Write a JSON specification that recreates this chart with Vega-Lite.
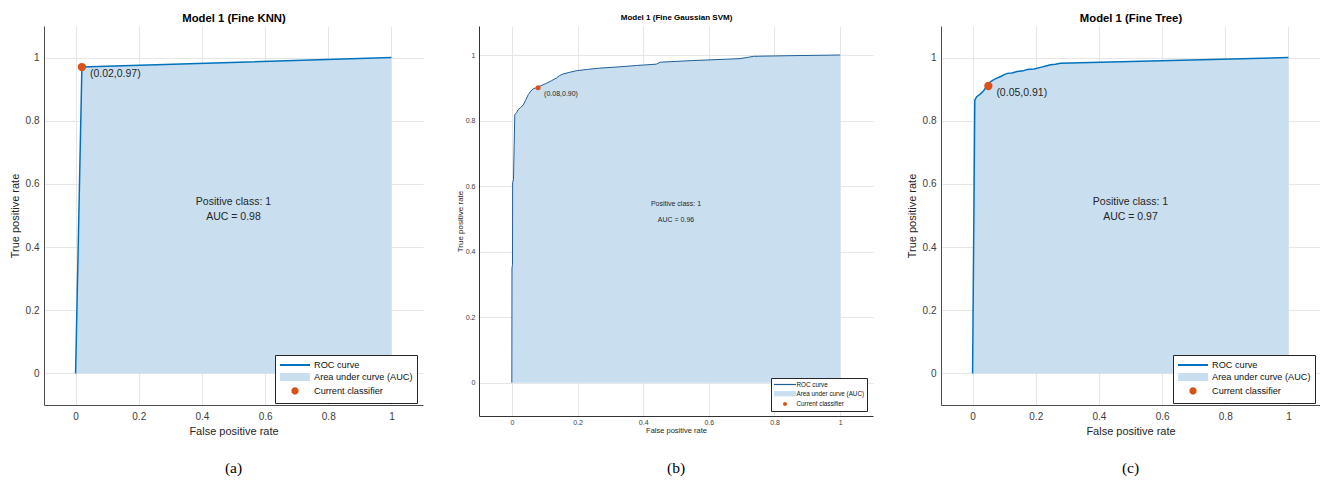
{
  "$schema": "https://vega.github.io/schema/vega-lite/v6.json",
  "background": "white",
  "padding": {"left": 9, "top": 12, "right": 0, "bottom": 0},
  "autosize": {"type": "pad"},
  "config": {"font": "Liberation Sans", "view": {"stroke": null}},
  "datasets": {
    "curveA": [{"fpr": 0, "tpr": 0}, {"fpr": 0.02, "tpr": 0.97}, {"fpr": 1, "tpr": 1}],
    "pointA": [{"fpr": 0.02, "tpr": 0.97, "label": "(0.02,0.97)"}],
    "textA": [{"fpr": 0.5, "tpr": 0.544, "text": "Positive class: 1"}, {"fpr": 0.5, "tpr": 0.496, "text": "AUC = 0.98"}],
    "curveB": [
      {"fpr": 0, "tpr": 0}, {"fpr": 0.0005, "tpr": 0.35}, {"fpr": 0.002, "tpr": 0.36}, {"fpr": 0.0025, "tpr": 0.61},
      {"fpr": 0.005, "tpr": 0.62}, {"fpr": 0.007, "tpr": 0.72}, {"fpr": 0.009, "tpr": 0.818}, {"fpr": 0.015, "tpr": 0.825},
      {"fpr": 0.019, "tpr": 0.833}, {"fpr": 0.027, "tpr": 0.84}, {"fpr": 0.035, "tpr": 0.848}, {"fpr": 0.042, "tpr": 0.862},
      {"fpr": 0.05, "tpr": 0.879}, {"fpr": 0.058, "tpr": 0.89}, {"fpr": 0.065, "tpr": 0.897}, {"fpr": 0.075, "tpr": 0.9},
      {"fpr": 0.083, "tpr": 0.904}, {"fpr": 0.095, "tpr": 0.909}, {"fpr": 0.106, "tpr": 0.914}, {"fpr": 0.12, "tpr": 0.921},
      {"fpr": 0.136, "tpr": 0.93}, {"fpr": 0.145, "tpr": 0.937}, {"fpr": 0.156, "tpr": 0.942}, {"fpr": 0.175, "tpr": 0.947},
      {"fpr": 0.197, "tpr": 0.952}, {"fpr": 0.23, "tpr": 0.956}, {"fpr": 0.268, "tpr": 0.96}, {"fpr": 0.33, "tpr": 0.964},
      {"fpr": 0.38, "tpr": 0.968}, {"fpr": 0.44, "tpr": 0.972}, {"fpr": 0.452, "tpr": 0.978}, {"fpr": 0.55, "tpr": 0.983},
      {"fpr": 0.65, "tpr": 0.987}, {"fpr": 0.695, "tpr": 0.989}, {"fpr": 0.72, "tpr": 0.993}, {"fpr": 0.736, "tpr": 0.996},
      {"fpr": 0.85, "tpr": 0.998}, {"fpr": 1, "tpr": 1}
    ],
    "pointB": [{"fpr": 0.08, "tpr": 0.9, "label": "(0.08,0.90)"}],
    "textB": [{"fpr": 0.5, "tpr": 0.546, "text": "Positive class: 1"}, {"fpr": 0.5, "tpr": 0.497, "text": "AUC = 0.96"}],
    "curveC": [
      {"fpr": 0, "tpr": 0}, {"fpr": 0.007, "tpr": 0.865}, {"fpr": 0.013, "tpr": 0.876}, {"fpr": 0.025, "tpr": 0.885},
      {"fpr": 0.035, "tpr": 0.895}, {"fpr": 0.046, "tpr": 0.911}, {"fpr": 0.055, "tpr": 0.922}, {"fpr": 0.062, "tpr": 0.927},
      {"fpr": 0.075, "tpr": 0.934}, {"fpr": 0.089, "tpr": 0.94}, {"fpr": 0.1, "tpr": 0.946}, {"fpr": 0.11, "tpr": 0.95},
      {"fpr": 0.125, "tpr": 0.951}, {"fpr": 0.141, "tpr": 0.956}, {"fpr": 0.16, "tpr": 0.958}, {"fpr": 0.173, "tpr": 0.962},
      {"fpr": 0.195, "tpr": 0.964}, {"fpr": 0.215, "tpr": 0.969}, {"fpr": 0.235, "tpr": 0.974}, {"fpr": 0.247, "tpr": 0.977},
      {"fpr": 0.262, "tpr": 0.979}, {"fpr": 0.278, "tpr": 0.982}, {"fpr": 1, "tpr": 1}
    ],
    "pointC": [{"fpr": 0.05, "tpr": 0.91, "label": "(0.05,0.91)"}],
    "textC": [{"fpr": 0.5, "tpr": 0.544, "text": "Positive class: 1"}, {"fpr": 0.5, "tpr": 0.496, "text": "AUC = 0.97"}]
  },
  "resolve": {"scale": {"x": "independent", "y": "independent", "color": "independent"}, "legend": {"color": "independent"}},
  "spacing": 33,
  "bounds": "full",
  "hconcat": [
    {
      "width": 379, "height": 379,
      "title": {"text": "(a)", "orient": "bottom", "font": "Liberation Serif", "fontSize": 15.5, "fontWeight": "normal", "color": "black", "offset": 25},
      "resolve": {"axis": {"x": "independent", "y": "independent"}},
      "layer": [
        {
          "data": {"name": "curveA"},
          "mark": {"type": "area", "opacity": 1},
          "encoding": {
            "x": {"field": "fpr", "type": "quantitative", "scale": {"domain": [-0.1, 1.1], "nice": false, "zero": false},
              "axis": {"values": [0, 0.2, 0.4, 0.6, 0.8, 1], "format": ".1~f", "title": "False positive rate", "grid": true, "gridColor": "#e6e6e6", "ticks": false, "domainColor": "#4d4d4d", "labelFontSize": 10, "labelColor": "#3c3c3c", "labelPadding": 6, "titleFontSize": 11, "titleFontWeight": "normal", "titleColor": "#262626", "titlePadding": 4}},
            "y": {"field": "tpr", "type": "quantitative", "scale": {"domain": [-0.1, 1.1], "nice": false, "zero": false},
              "axis": {"values": [0, 0.2, 0.4, 0.6, 0.8, 1], "format": ".1~f", "title": "True positive rate", "grid": true, "gridColor": "#e6e6e6", "ticks": false, "domainColor": "#4d4d4d", "labelFontSize": 10, "labelColor": "#3c3c3c", "labelPadding": 5, "titleFontSize": 11, "titleFontWeight": "normal", "titleColor": "#262626", "titlePadding": 5}},
            "y2": {"datum": 0},
            "color": {"datum": "Area under curve (AUC)",
              "scale": {"domain": ["ROC curve", "Area under curve (AUC)", "Current classifier"], "range": ["#0072BD", "#c9dff0", "#D95319"]},
              "legend": {"orient": "none", "legendX": 231, "legendY": 329, "title": null, "padding": 4, "strokeColor": "#262626", "fillColor": "white", "symbolSize": 100, "symbolOffset": 10, "labelFontSize": 9.2, "labelColor": "#111111", "labelOffset": 13, "rowPadding": -2.5,
                "symbolType": {"expr": "datum.value === 'ROC curve' ? 'M-3,0H3' : datum.value === 'Current classifier' ? 'M-0.73,0A0.73,0.73,0,1,1,0.73,0A0.73,0.73,0,1,1,-0.73,0Z' : 'M-3,-0.8H3V0.8H-3Z'"},
                "symbolStrokeColor": {"expr": "datum.value === 'ROC curve' ? '#0072BD' : 'transparent'"},
                "symbolStrokeWidth": 2, "symbolOpacity": 1}}
          }
        },
        {
          "data": {"name": "curveA"},
          "mark": {"type": "line", "strokeWidth": 1.5, "color": "#0072BD"},
          "encoding": {
            "x": {"field": "fpr", "type": "quantitative", "scale": {"domain": [-0.1, 1.1], "nice": false, "zero": false}, "axis": null},
            "y": {"field": "tpr", "type": "quantitative", "scale": {"domain": [-0.1, 1.1], "nice": false, "zero": false}, "axis": null}
          }
        },
        {
          "data": {"name": "pointA"},
          "mark": {"type": "point", "filled": true, "size": 69, "opacity": 1, "color": "#D95319"},
          "encoding": {
            "x": {"field": "fpr", "type": "quantitative", "scale": {"domain": [-0.1, 1.1], "nice": false, "zero": false}, "axis": null},
            "y": {"field": "tpr", "type": "quantitative", "scale": {"domain": [-0.1, 1.1], "nice": false, "zero": false}, "axis": null}
          }
        },
        {
          "data": {"name": "pointA"},
          "mark": {"type": "text", "align": "left", "baseline": "middle", "dx": 8, "dy": 7, "fontSize": 10.5, "color": "#262626"},
          "encoding": {
            "x": {"field": "fpr", "type": "quantitative", "scale": {"domain": [-0.1, 1.1], "nice": false, "zero": false}, "axis": null},
            "y": {"field": "tpr", "type": "quantitative", "scale": {"domain": [-0.1, 1.1], "nice": false, "zero": false}, "axis": null},
            "text": {"field": "label"}
          }
        },
        {
          "data": {"name": "textA"},
          "mark": {"type": "text", "align": "center", "baseline": "middle", "fontSize": 10.5, "color": "#262626"},
          "encoding": {
            "x": {"field": "fpr", "type": "quantitative", "scale": {"domain": [-0.1, 1.1], "nice": false, "zero": false},
              "axis": {"orient": "top", "title": "Model 1 (Fine KNN)", "labels": false, "ticks": false, "domain": false, "grid": false, "titleFontSize": 11.3, "titleFontWeight": "bold", "titleColor": "black", "titlePadding": 3}},
            "y": {"field": "tpr", "type": "quantitative", "scale": {"domain": [-0.1, 1.1], "nice": false, "zero": false}, "axis": null},
            "text": {"field": "text"}
          }
        }
      ]
    },
    {
      "width": 394, "height": 390,
      "title": {"text": "(b)", "orient": "bottom", "font": "Liberation Serif", "fontSize": 15.5, "fontWeight": "normal", "color": "black", "offset": 27},
      "resolve": {"axis": {"x": "independent", "y": "independent"}},
      "layer": [
        {
          "data": {"name": "curveB"},
          "mark": {"type": "area", "opacity": 1},
          "encoding": {
            "x": {"field": "fpr", "type": "quantitative", "scale": {"domain": [-0.1, 1.1], "nice": false, "zero": false},
              "axis": {"values": [0, 0.2, 0.4, 0.6, 0.8, 1], "format": ".1~f", "title": "False positive rate", "grid": true, "gridColor": "#e6e6e6", "ticks": false, "domainColor": "#333333", "labelFontSize": 7, "labelColor": "#3c3c3c", "labelPadding": 2.5, "titleFontSize": 7.5, "titleFontWeight": "normal", "titleColor": "#262626", "titlePadding": 1}},
            "y": {"field": "tpr", "type": "quantitative", "scale": {"domain": [-0.1016, 1.0885], "nice": false, "zero": false},
              "axis": {"values": [0, 0.2, 0.4, 0.6, 0.8, 1], "format": ".1~f", "title": "True positive rate", "grid": true, "gridColor": "#e6e6e6", "ticks": false, "domainColor": "#333333", "labelFontSize": 7, "labelColor": "#3c3c3c", "labelPadding": 4, "titleFontSize": 8, "titleFontWeight": "normal", "titleColor": "#262626", "titlePadding": 1}},
            "y2": {"datum": 0},
            "color": {"datum": "Area under curve (AUC)",
              "scale": {"domain": ["ROC curve", "Area under curve (AUC)", "Current classifier"], "range": ["#1f5f99", "#c9dff0", "#D95319"]},
              "legend": {"orient": "none", "legendX": 292, "legendY": 352, "title": null, "padding": 2, "strokeColor": "#262626", "fillColor": "white", "symbolSize": 49, "symbolOffset": 7.5, "labelFontSize": 6.3, "labelColor": "#111111", "labelOffset": 7, "rowPadding": 0.2,
                "symbolType": {"expr": "datum.value === 'ROC curve' ? 'M-3.14,0H3.14' : datum.value === 'Current classifier' ? 'M-0.57,0A0.57,0.57,0,1,1,0.57,0A0.57,0.57,0,1,1,-0.57,0Z' : 'M-3.14,-0.76H3.14V0.76H-3.14Z'"},
                "symbolStrokeColor": {"expr": "datum.value === 'ROC curve' ? '#1f5f99' : 'transparent'"},
                "symbolStrokeWidth": 1.2, "symbolOpacity": 1}}
          }
        },
        {
          "data": {"name": "curveB"},
          "mark": {"type": "line", "strokeWidth": 1, "color": "#1f5f99"},
          "encoding": {
            "x": {"field": "fpr", "type": "quantitative", "scale": {"domain": [-0.1, 1.1], "nice": false, "zero": false}, "axis": null},
            "y": {"field": "tpr", "type": "quantitative", "scale": {"domain": [-0.1016, 1.0885], "nice": false, "zero": false}, "axis": null}
          }
        },
        {
          "data": {"name": "pointB"},
          "mark": {"type": "point", "filled": true, "size": 25, "opacity": 1, "color": "#D95319"},
          "encoding": {
            "x": {"field": "fpr", "type": "quantitative", "scale": {"domain": [-0.1, 1.1], "nice": false, "zero": false}, "axis": null},
            "y": {"field": "tpr", "type": "quantitative", "scale": {"domain": [-0.1016, 1.0885], "nice": false, "zero": false}, "axis": null}
          }
        },
        {
          "data": {"name": "pointB"},
          "mark": {"type": "text", "align": "left", "baseline": "middle", "dx": 6, "dy": 6.5, "fontSize": 7, "color": "#262626"},
          "encoding": {
            "x": {"field": "fpr", "type": "quantitative", "scale": {"domain": [-0.1, 1.1], "nice": false, "zero": false}, "axis": null},
            "y": {"field": "tpr", "type": "quantitative", "scale": {"domain": [-0.1016, 1.0885], "nice": false, "zero": false}, "axis": null},
            "text": {"field": "label"}
          }
        },
        {
          "data": {"name": "textB"},
          "mark": {"type": "text", "align": "center", "baseline": "middle", "fontSize": 7, "color": "#262626"},
          "encoding": {
            "x": {"field": "fpr", "type": "quantitative", "scale": {"domain": [-0.1, 1.1], "nice": false, "zero": false},
              "axis": {"orient": "top", "title": "Model 1 (Fine Gaussian SVM)", "labels": false, "ticks": false, "domain": false, "grid": false, "titleFontSize": 8, "titleFontWeight": "bold", "titleColor": "black", "titlePadding": 5}},
            "y": {"field": "tpr", "type": "quantitative", "scale": {"domain": [-0.1016, 1.0885], "nice": false, "zero": false}, "axis": null},
            "text": {"field": "text"}
          }
        }
      ]
    },
    {
      "width": 379, "height": 379,
      "title": {"text": "(c)", "orient": "bottom", "font": "Liberation Serif", "fontSize": 15.5, "fontWeight": "normal", "color": "black", "offset": 25},
      "resolve": {"axis": {"x": "independent", "y": "independent"}},
      "layer": [
        {
          "data": {"name": "curveC"},
          "mark": {"type": "area", "opacity": 1},
          "encoding": {
            "x": {"field": "fpr", "type": "quantitative", "scale": {"domain": [-0.1, 1.1], "nice": false, "zero": false},
              "axis": {"values": [0, 0.2, 0.4, 0.6, 0.8, 1], "format": ".1~f", "title": "False positive rate", "grid": true, "gridColor": "#e6e6e6", "ticks": false, "domainColor": "#4d4d4d", "labelFontSize": 10, "labelColor": "#3c3c3c", "labelPadding": 6, "titleFontSize": 11, "titleFontWeight": "normal", "titleColor": "#262626", "titlePadding": 4}},
            "y": {"field": "tpr", "type": "quantitative", "scale": {"domain": [-0.1, 1.1], "nice": false, "zero": false},
              "axis": {"values": [0, 0.2, 0.4, 0.6, 0.8, 1], "format": ".1~f", "title": "True positive rate", "grid": true, "gridColor": "#e6e6e6", "ticks": false, "domainColor": "#4d4d4d", "labelFontSize": 10, "labelColor": "#3c3c3c", "labelPadding": 5, "titleFontSize": 11, "titleFontWeight": "normal", "titleColor": "#262626", "titlePadding": 5}},
            "y2": {"datum": 0},
            "color": {"datum": "Area under curve (AUC)",
              "scale": {"domain": ["ROC curve", "Area under curve (AUC)", "Current classifier"], "range": ["#0072BD", "#c9dff0", "#D95319"]},
              "legend": {"orient": "none", "legendX": 232, "legendY": 329, "title": null, "padding": 4, "strokeColor": "#262626", "fillColor": "white", "symbolSize": 100, "symbolOffset": 10, "labelFontSize": 9.2, "labelColor": "#111111", "labelOffset": 13, "rowPadding": -2.5,
                "symbolType": {"expr": "datum.value === 'ROC curve' ? 'M-3,0H3' : datum.value === 'Current classifier' ? 'M-0.73,0A0.73,0.73,0,1,1,0.73,0A0.73,0.73,0,1,1,-0.73,0Z' : 'M-3,-0.8H3V0.8H-3Z'"},
                "symbolStrokeColor": {"expr": "datum.value === 'ROC curve' ? '#0072BD' : 'transparent'"},
                "symbolStrokeWidth": 2, "symbolOpacity": 1}}
          }
        },
        {
          "data": {"name": "curveC"},
          "mark": {"type": "line", "strokeWidth": 1.5, "color": "#0072BD"},
          "encoding": {
            "x": {"field": "fpr", "type": "quantitative", "scale": {"domain": [-0.1, 1.1], "nice": false, "zero": false}, "axis": null},
            "y": {"field": "tpr", "type": "quantitative", "scale": {"domain": [-0.1, 1.1], "nice": false, "zero": false}, "axis": null}
          }
        },
        {
          "data": {"name": "pointC"},
          "mark": {"type": "point", "filled": true, "size": 69, "opacity": 1, "color": "#D95319"},
          "encoding": {
            "x": {"field": "fpr", "type": "quantitative", "scale": {"domain": [-0.1, 1.1], "nice": false, "zero": false}, "axis": null},
            "y": {"field": "tpr", "type": "quantitative", "scale": {"domain": [-0.1, 1.1], "nice": false, "zero": false}, "axis": null}
          }
        },
        {
          "data": {"name": "pointC"},
          "mark": {"type": "text", "align": "left", "baseline": "middle", "dx": 8, "dy": 7, "fontSize": 10.5, "color": "#262626"},
          "encoding": {
            "x": {"field": "fpr", "type": "quantitative", "scale": {"domain": [-0.1, 1.1], "nice": false, "zero": false}, "axis": null},
            "y": {"field": "tpr", "type": "quantitative", "scale": {"domain": [-0.1, 1.1], "nice": false, "zero": false}, "axis": null},
            "text": {"field": "label"}
          }
        },
        {
          "data": {"name": "textC"},
          "mark": {"type": "text", "align": "center", "baseline": "middle", "fontSize": 10.5, "color": "#262626"},
          "encoding": {
            "x": {"field": "fpr", "type": "quantitative", "scale": {"domain": [-0.1, 1.1], "nice": false, "zero": false},
              "axis": {"orient": "top", "title": "Model 1 (Fine Tree)", "labels": false, "ticks": false, "domain": false, "grid": false, "titleFontSize": 11.3, "titleFontWeight": "bold", "titleColor": "black", "titlePadding": 3}},
            "y": {"field": "tpr", "type": "quantitative", "scale": {"domain": [-0.1, 1.1], "nice": false, "zero": false}, "axis": null},
            "text": {"field": "text"}
          }
        }
      ]
    }
  ]
}
